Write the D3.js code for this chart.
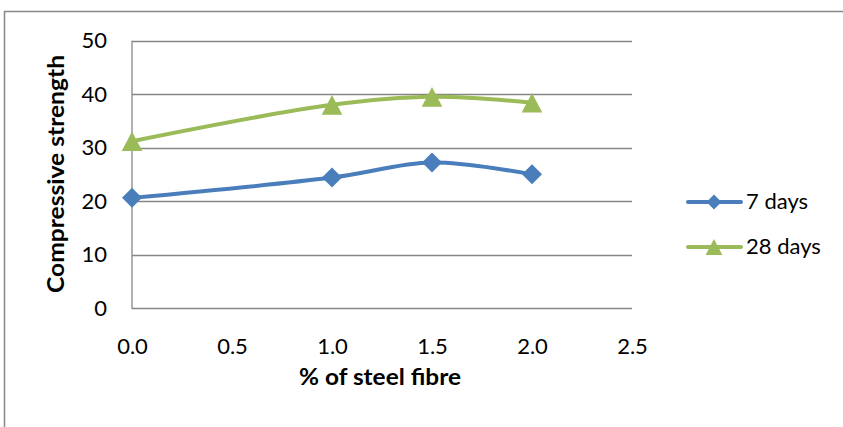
<!DOCTYPE html>
<html><head><meta charset="utf-8">
<script src="https://cdn.jsdelivr.net/npm/d3@7"></script>
<style>body{margin:0;background:#fff}svg{display:block}text{font-family:Lato,"Open Sans",sans-serif;fill:#000}</style>
</head><body><svg id="c" width="843" height="427"></svg>
<script>
const fibre = [0.0, 1.0, 1.5, 2.0];
const days7 = [20.6, 24.4, 27.2, 25.0];
const days28 = [31.2, 38.0, 39.5, 38.4];
const seriesNames = ["7 days", "28 days"];
const xTicks = [0, 0.5, 1.0, 1.5, 2.0, 2.5];
const yTicks = [0, 10, 20, 30, 40, 50];

const svg = d3.select("#c");
// chart frame
svg.append("path").attr("d","M4.5,427 V11.5 H843").attr("fill","none").attr("stroke","#868686").attr("stroke-width",1.5);

const x = d3.scaleLinear().domain([0,2.5]).range([132,632]);
const y = d3.scaleLinear().domain([0,50]).range([308,40.7]);

// gridlines
svg.append("g").selectAll("line").data(yTicks).join("line")
  .attr("x1",x(0)).attr("x2",x(2.5)).attr("y1",d=>Math.round(y(d))+0.5).attr("y2",d=>Math.round(y(d))+0.5)
  .attr("stroke","#868686").attr("stroke-width",1.3);
// y axis line
svg.append("line").attr("x1",x(0)).attr("x2",x(0)).attr("y1",y(50)).attr("y2",y(0)+1).attr("stroke","#868686").attr("stroke-width",1.3);

const yAx = svg.append("g").attr("transform",`translate(${x(0)},0)`).call(d3.axisLeft(y).tickValues(yTicks).tickSize(0).tickPadding(25).tickFormat(d3.format("d")));
const xAx = svg.append("g").attr("transform",`translate(0,${y(0)})`).call(d3.axisBottom(x).tickValues(xTicks).tickSize(0).tickPadding(30).tickFormat(d3.format(".1f")));
[yAx,xAx].forEach(g=>{g.select(".domain").remove();g.selectAll("text").attr("font-size",22).attr("font-family","Lato, sans-serif").attr("fill","#000");});

// axis titles
svg.append("text").attr("x",380).attr("y",385).attr("text-anchor","middle").attr("font-size",22).attr("font-weight","bold")
  .attr("textLength",162).attr("lengthAdjust","spacingAndGlyphs").text("% of steel fibre");
svg.append("text").attr("transform","translate(64,174) rotate(-90)").attr("text-anchor","middle").attr("font-size",22).attr("font-weight","bold")
  .attr("textLength",238).attr("lengthAdjust","spacingAndGlyphs").text("Compressive strength");

const colors = ["#4A7EBB","#9BBB59"];
const data = [days7, days28];
const line = d3.line().x((d,i)=>x(fibre[i])).y(d=>y(d)).curve(d3.curveCatmullRom.alpha(0.5));

function marker(g, type, cx, cy, s, color){
  if(type===0){
    g.append("path").attr("d",`M${cx},${cy-s} L${cx+s},${cy} L${cx},${cy+s} L${cx-s},${cy} Z`).attr("fill",color);
  } else {
    g.append("path").attr("d",`M${cx},${cy-s} L${cx+s*1.05},${cy+s} L${cx-s*1.05},${cy+s} Z`).attr("fill",color);
  }
}

data.forEach((vals,k)=>{
  svg.append("path").datum(vals).attr("d",line).attr("fill","none").attr("stroke",colors[k]).attr("stroke-width",4).attr("stroke-linejoin","round").attr("stroke-linecap","round");
  const g = svg.append("g");
  vals.forEach((v,i)=>marker(g,k,x(fibre[i]),y(v),k===0?10:9.8,colors[k]));
});

// legend
const leg = [202,247];
seriesNames.forEach((n,k)=>{
  svg.append("line").attr("x1",688).attr("x2",741).attr("y1",leg[k]).attr("y2",leg[k]).attr("stroke",colors[k]).attr("stroke-width",4).attr("stroke-linecap","round");
  marker(svg,k,714,leg[k],k===0?7.5:8,colors[k]);
  svg.append("text").attr("x",746).attr("y",leg[k]+7).attr("font-size",22).text(n);
});
</script></body></html>
